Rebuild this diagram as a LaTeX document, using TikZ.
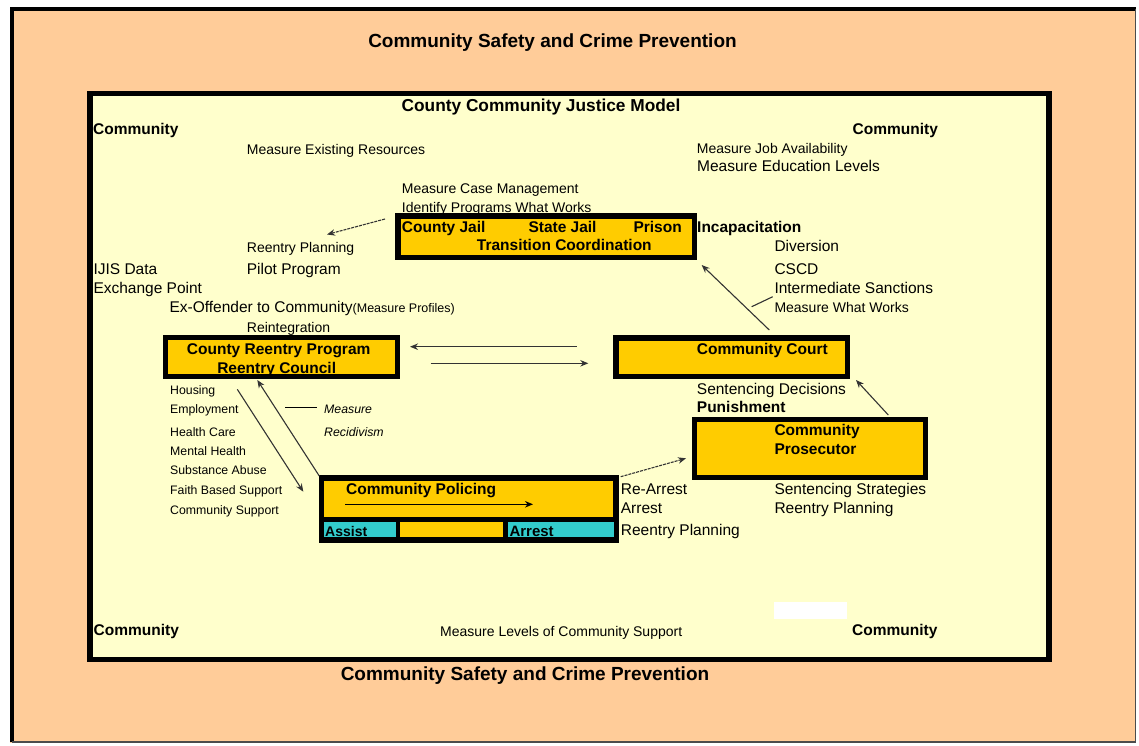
\documentclass[tikz,border=0pt]{standalone}
\usepackage{fontspec}
\setmainfont{Liberation Sans}
\usetikzlibrary{arrows.meta}
\definecolor{peach}{HTML}{FFCC99}
\definecolor{cream}{HTML}{FFFFCC}
\definecolor{gold}{HTML}{FFCC00}
\definecolor{teal}{HTML}{33CCCC}
\tikzset{
  t/.style={inner sep=0pt, text height=0.716em, text depth=0pt, anchor=west, yshift=-2.5pt, font=\fontsize{15.5}{17}\selectfont},
  ts/.style={t, font=\fontsize{14}{16}\selectfont},
  txs/.style={t, font=\fontsize{12.3}{14}\selectfont},
  txi/.style={t, font=\fontsize{12.3}{14}\selectfont\itshape},
  tb/.style={t, font=\fontsize{15.5}{17}\selectfont\bfseries},
  ttl/.style={t, anchor=center, font=\fontsize{19}{21}\selectfont\bfseries},
  box/.style={draw=black, fill=gold, inner sep=0pt},
  cell/.style={inner sep=0pt, draw=none},
  conn/.style={draw=black!80, line width=1.1pt, -{Stealth[length=8pt,width=6.5pt]}},
  plain/.style={draw=black!80, line width=1.1pt},
}
\begin{document}
\begin{tikzpicture}[x=1pt,y=-1pt]
\useasboundingbox (0,0) rectangle (1139,745);
\fill[white] (0,0) rectangle (1139,745);
% outer frame
\fill[peach] (10,7) rectangle (1136,742.5);
\draw[line width=4pt] (12,742) -- (12,9) -- (1136,9);
\draw[line width=1.5pt, black!70] (1135.3,9) -- (1135.3,741.8) -- (12,741.8);
% inner frame
\draw[line width=5.5pt, fill=cream] (90,93.7) rectangle (1049.2,659.5);
\fill[white] (774,601.8) rectangle (847,619.3);

% titles
\node[ttl] (title1) at (552.5,41.7) {Community Safety and Crime Prevention};
\node[ttl] (title2) at (525,674) {Community Safety and Crime Prevention};
\node[t, anchor=center, font=\fontsize{17.3}{19}\selectfont\bfseries] (model) at (541,105.7) {County Community Justice Model};
\node[tb] (c1) at (93,128.3) {Community};
\node[tb] (c2) at (852.5,128.3) {Community};
\node[tb] (c3) at (93.5,629.6) {Community};
\node[tb] (c4) at (852,629.6) {Community};
\node[ts] (mlcs) at (440,630) {Measure Levels of Community Support};

% top labels
\node[ts] (mer) at (246.7,148) {Measure Existing Resources};
\node[ts] (mja) at (696.7,147.8) {Measure Job Availability};
\node[t] (mel) at (697,165) {Measure Education Levels};
\node[ts] (mcm) at (401.7,187.3) {Measure Case Management};
\node[ts] (ipw) at (401.7,206) {Identify Programs What Works};

% jail box
\node[box, line width=5.5pt, minimum width=296.5pt, minimum height=41.5pt] (jail) at (546.25,236.75) {};
\node[tb] (cj) at (401.7,226) {County Jail};
\node[tb] (sj) at (528.3,226) {State Jail};
\node[tb] (pr) at (633.3,226) {Prison};
\node[tb] (tc) at (476.7,244.7) {Transition Coordination};
\node[tb] (inc) at (697,226) {Incapacitation};
\node[t] (div) at (774.3,245.3) {Diversion};
\node[t] (cscd) at (774.3,268.3) {CSCD};
\node[t] (ims) at (774.3,287) {Intermediate Sanctions};
\node[ts] (mww) at (774.3,306.7) {Measure What Works};

% left labels
\node[ts] (rp1) at (246.7,246) {Reentry Planning};
\node[t] (pp) at (246.7,268) {Pilot Program};
\node[t] (ijis) at (93.3,268) {IJIS Data};
\node[t] (exp) at (93.3,287.5) {Exchange Point};
\node[t] (exo) at (169.3,306.3) {Ex-Offender to Community{\fontsize{12.5}{14}\selectfont(Measure Profiles)}};
\node[ts] (reint) at (246.7,326) {Reintegration};

% reentry box
\node[box, line width=4.5pt, minimum width=232pt, minimum height=39pt] (reentry) at (281.5,357) {};
\node[tb, anchor=center] (crp) at (278.7,348.3) {County Reentry Program};
\node[tb, anchor=center] (rc) at (276.7,367) {Reentry Council};

% court box
\node[box, line width=5.5pt, minimum width=231.5pt, minimum height=38.5pt] (court) at (731.75,357.25) {};
\node[tb] (cc) at (696.7,348) {Community Court};
\node[t] (sd) at (696.7,388.7) {Sentencing Decisions};
\node[tb] (pun) at (696.7,406.7) {Punishment};

% prosecutor box
\node[box, line width=5pt, minimum width=231pt, minimum height=57.5pt] (pros) at (810,448.25) {};
\node[tb] (cp1) at (774.3,429.5) {Community};
\node[tb] (cp2) at (774.3,448) {Prosecutor};
\node[t] (ss) at (774.3,488.3) {Sentencing Strategies};
\node[t] (rp3) at (774.3,507) {Reentry Planning};

% list
\node[txs] (l1) at (170,388.5) {Housing};
\node[txs] (l2) at (170,407) {Employment};
\node[txs] (l3) at (170,430) {Health Care};
\node[txs] (l4) at (170,449) {Mental Health};
\node[txs] (l5) at (170,468.3) {Substance Abuse};
\node[txs] (l6) at (170,488.7) {Faith Based Support};
\node[txs] (l7) at (170,508) {Community Support};
\node[txi] (mea) at (324,407.3) {Measure};
\node[txi] (rec) at (324,430) {Recidivism};

% policing box
\node[cell, fill=black, minimum width=300pt, minimum height=68pt] (policing) at (469.3,509.3) {};
\node[cell, fill=gold, minimum width=289pt, minimum height=35.7pt] (polup) at (468.8,498.85) {};
\node[cell, fill=teal, minimum width=71.4pt, minimum height=15pt] (assist) at (360,529.8) {};
\node[cell, fill=gold, minimum width=103.3pt, minimum height=15pt] (mid) at (451.65,529.8) {};
\node[cell, fill=teal, minimum width=105.7pt, minimum height=15pt] (arrest) at (561.15,529.8) {};
\node[tb] (cpol) at (346,488.3) {Community Policing};
\node[t, font=\fontsize{14}{16}\selectfont\bfseries] (ast) at (325,530.3) {Assist};
\node[t, font=\fontsize{15}{16}\selectfont\bfseries] (arr) at (509.3,530.3) {Arrest};
\node[t] (rea) at (620.7,488.3) {Re-Arrest};
\node[t] (arr2) at (620.7,507) {Arrest};
\node[t] (rp2) at (620.7,529.5) {Reentry Planning};

% connector end points
\coordinate (a1s) at (385,219);
\coordinate (a1e) at (327,234.5);
\coordinate (a2s) at (576.7,346.7);
\coordinate (a2e) at (410,346.7);
\coordinate (a3s) at (430.7,363.3);
\coordinate (a3e) at (588.3,363.3);
\coordinate (a4s) at (769.3,330);
\coordinate (a4e) at (701.7,265);
\coordinate (m1s) at (751.7,306.7);
\coordinate (m1e) at (772.7,296.7);
\coordinate (a5s) at (888.3,415);
\coordinate (a5e) at (856,380);
\coordinate (a6s) at (620.7,476.7);
\coordinate (a6e) at (686,458.3);
\coordinate (a7s) at (237.3,389.3);
\coordinate (a7e) at (303.3,491.7);
\coordinate (a8s) at (319.3,476);
\coordinate (a8e) at (257.3,380);
\coordinate (a9s) at (345,504.3);
\coordinate (a9e) at (533,504.3);
\coordinate (m2s) at (285,407.3);
\coordinate (m2e) at (316.7,407.3);

\draw[conn, dashed, dash pattern=on 3pt off 1pt] (a1s) -- (a1e);
\draw[conn] (a2s) -- (a2e);
\draw[conn] (a3s) -- (a3e);
\draw[conn] (a4s) -- (a4e);
\draw[plain] (m1s) -- (m1e);
\draw[conn] (a5s) -- (a5e);
\draw[conn, dashed, dash pattern=on 3pt off 1pt] (a6s) -- (a6e);
\draw[conn] (a7s) -- (a7e);
\draw[conn] (a8s) -- (a8e);
\draw[conn, draw=black] (a9s) -- (a9e);
\draw[draw=black, line width=1pt] (m2s) -- (m2e);
\end{tikzpicture}
\end{document}
